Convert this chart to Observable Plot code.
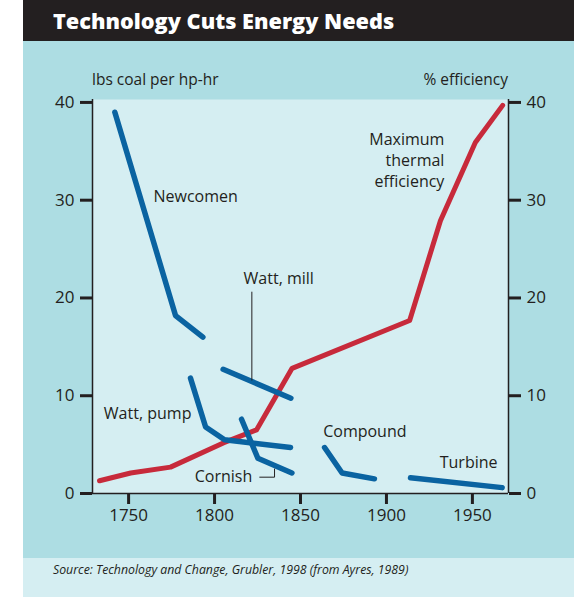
<!DOCTYPE html>
<html>
<head>
<meta charset="utf-8">
<script src="https://cdn.jsdelivr.net/npm/d3@7"></script>
<script src="https://cdn.jsdelivr.net/npm/@observablehq/plot@0.6"></script>
<style>
  html, body { margin: 0; padding: 0; background: #ffffff; }
  body { width: 574px; height: 597px; position: relative; overflow: hidden; font-family: "Open Sans", sans-serif; }
  .panel { position: absolute; left: 23px; top: 0; width: 551px; height: 597px; background: #addde3; }
  .titlebar { position: absolute; left: 0; top: 0; width: 551px; height: 41px; background: #231f20; color: #ffffff;
    font-weight: 800; font-size: 21.7px; line-height: 41px; padding-left: 30px; box-sizing: border-box; white-space: nowrap; }
  .ytitle { position: absolute; top: 69px; font-size: 15.5px; color: #231f20; line-height: 20px; white-space: nowrap; }
  #chart { position: absolute; left: 0; top: 41px; }
  .source { position: absolute; left: 0; top: 558px; width: 551px; height: 39px; background: #d5eef2; color: #231f20;
    font-style: italic; font-size: 12.3px; line-height: 23px; padding-left: 30px; box-sizing: border-box; white-space: nowrap; }
</style>
</head>
<body>
<div class="panel">
  <div class="titlebar">Technology Cuts Energy Needs</div>
  <div class="ytitle" style="left:69px;">lbs coal per hp-hr</div>
  <div class="ytitle" style="right:66px;">% efficiency</div>
  <div id="chart"></div>
  <div class="source">Source: Technology and Change, Grubler, 1998 (from Ayres, 1989)</div>
</div>
<script>
// ---- data (year, value) ----
const newcomenYears = [1742, 1777.3, 1793.2];
const newcomenCoal  = [39.0, 18.2, 16.0];
const wattMillYears = [1805, 1844.4];
const wattMillCoal  = [12.7, 9.75];
const wattPumpYears = [1786, 1794.8, 1805.8, 1844.2];
const wattPumpCoal  = [11.8, 6.8, 5.5, 4.7];
const cornishYears  = [1815.7, 1825.2, 1845];
const cornishCoal   = [7.6, 3.6, 2.1];
const compoundYears = [1864, 1874.2, 1893];
const compoundCoal  = [4.7, 2.1, 1.5];
const turbineYears  = [1914, 1967.3];
const turbineCoal   = [1.6, 0.6];
const effYears = [1733.1, 1751.2, 1774.4, 1805.4, 1824.4, 1845.1, 1913.5, 1931.4, 1951.7, 1967.6];
const effPct   = [1.3, 2.1, 2.7, 5.2, 6.5, 12.8, 17.7, 27.9, 35.9, 39.7];

const xTicks = [1750, 1800, 1850, 1900, 1950];
const yTicks = [0, 10, 20, 30, 40];
const xDomain = [1729, 1971];
const yDomain = [0, 40.3];

// labels
const startLabels = [
  {x: 1764.5, y: 30.3, text: "Newcomen"},
  {x: 1735.6, y: 8.1, text: "Watt, pump"},
  {x: 1788.5, y: 1.75, text: "Cornish"},
  {x: 1863.2, y: 6.3, text: "Compound"},
  {x: 1931, y: 3.1, text: "Turbine"},
  {x: 1816.9, y: 22.0, text: "Watt, mill"}
];
const effLabel = [{x: 1933.7, y: 34.2, text: "Maximum\nthermal\nefficiency"}];
const millLeader = [{x: 1821.7, y: 20.6}, {x: 1821.7, y: 11.6}];
const cornishLeader = [{x: 1826.3, y: 1.67}, {x: 1834.9, y: 1.67}, {x: 1834.9, y: 2.5}];

// build tables
const coalSeries = [
  ["Newcomen", newcomenYears, newcomenCoal],
  ["Watt, mill", wattMillYears, wattMillCoal],
  ["Watt, pump", wattPumpYears, wattPumpCoal],
  ["Cornish", cornishYears, cornishCoal],
  ["Compound", compoundYears, compoundCoal],
  ["Turbine", turbineYears, turbineCoal]
];
const coal = coalSeries.flatMap(([name, xs, ys]) => xs.map((x, i) => ({name, year: x, value: ys[i]})));
const eff = effYears.map((x, i) => ({year: x, value: effPct[i]}));

const ink = "#231f20";
const blue = "#0a63a1";
const red = "#c72a3b";

const chart = Plot.plot({
  width: 551,
  height: 516,
  marginLeft: 69,
  marginRight: 66,
  marginTop: 58,
  marginBottom: 64,
  style: {background: "transparent", color: ink, fontFamily: "'Open Sans', sans-serif", fontSize: "17px", overflow: "visible"},
  x: {domain: xDomain},
  y: {domain: yDomain},
  marks: [
    Plot.frame({fill: "#d5eef2"}),
    Plot.axisX({ticks: xTicks, tickFormat: d => String(d), tickSize: 11, tickPadding: 4, strokeWidth: 3, label: null, fontSize: 17}),
    Plot.axisY({anchor: "left", ticks: yTicks, tickSize: 12, tickPadding: 6, strokeWidth: 3, label: null, fontSize: 17}),
    Plot.axisY({anchor: "right", ticks: yTicks, tickSize: 12, tickPadding: 6, strokeWidth: 3, label: null, fontSize: 17}),
    Plot.ruleY([yDomain[0]], {stroke: ink, strokeWidth: 1.5}),
    Plot.ruleX(xDomain, {stroke: ink, strokeWidth: 1.5}),
    Plot.line(eff, {x: "year", y: "value", stroke: red, strokeWidth: 5, strokeLinecap: "round", strokeLinejoin: "round"}),
    Plot.line(coal, {x: "year", y: "value", z: "name", stroke: blue, strokeWidth: 5.5, strokeLinecap: "round", strokeLinejoin: "round"}),
    Plot.line(millLeader, {x: "x", y: "y", stroke: ink, strokeWidth: 1}),
    Plot.line(cornishLeader, {x: "x", y: "y", stroke: ink, strokeWidth: 1}),
    Plot.text(startLabels, {x: "x", y: "y", text: "text", textAnchor: "start", fill: ink, fontSize: 16}),
    Plot.text(effLabel, {x: "x", y: "y", text: "text", textAnchor: "end", fill: ink, fontSize: 16, lineHeight: 1.31})
  ]
});
document.getElementById("chart").appendChild(chart);
</script>
</body>
</html>
